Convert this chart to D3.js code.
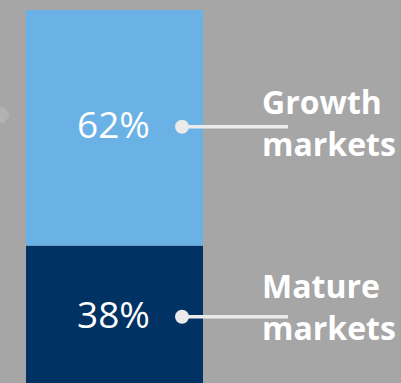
<!DOCTYPE html>
<html>
<head>
<meta charset="utf-8">
<script src="https://cdn.jsdelivr.net/npm/d3@7"></script>
<style>
  html, body { margin: 0; padding: 0; background: #a6a6a6; }
  svg { display: block; }
</style>
</head>
<body>
<svg id="chart" width="401" height="383"></svg>
<script>
// Market split (share of total, %), stacked from the bottom up
const segments = ["Mature markets", "Growth markets"];
const shares = [38, 62];
const labelLines = [["Mature", "markets"], ["Growth", "markets"]];
const colors = ["#003263", "#6ab1e6"];

const W = 401, H = 383;
const svg = d3.select("#chart");

// background
svg.append("rect").attr("width", W).attr("height", H).attr("fill", "#a6a6a6");

// faint pointer at the left edge
svg.append("path")
  .attr("d", "M0,107 L4,107 L10,115 L4,123 L0,123 Z")
  .attr("fill", "#b2b2b2");

const x = d3.scaleBand().domain(["share"]).range([26, 203]).padding(0);
const y = d3.scaleLinear().domain([0, 100]).range([390, 10]);

// stack
let acc = 0;
const stacked = shares.map((v, i) => {
  const d = { key: segments[i], value: v, y0: acc, y1: acc + v, i };
  acc += v;
  return d;
});

const g = svg.append("g");

g.selectAll("rect.seg")
  .data(stacked)
  .join("rect")
  .attr("class", "seg")
  .attr("x", x("share"))
  .attr("width", x.bandwidth())
  .attr("y", d => y(d.y1))
  .attr("height", d => y(d.y0) - y(d.y1))
  .attr("fill", d => colors[d.i]);

const mid = d => (y(d.y0) + y(d.y1)) / 2 - 1;
const cx = x("share") + x.bandwidth() / 2;

// percentage values
g.selectAll("text.pct")
  .data(stacked)
  .join("text")
  .attr("class", "pct")
  .attr("x", cx - 1)
  .attr("y", d => mid(d) + 11)
  .attr("text-anchor", "middle")
  .attr("font-family", "'Open Sans', sans-serif")
  .attr("font-size", 37)
  .attr("fill", "#ffffff")
  .text(d => d.value + "%");

// leader lines and dots
const leaderColor = "#ebebeb";
g.selectAll("line.leader")
  .data(stacked)
  .join("line")
  .attr("class", "leader")
  .attr("x1", 182)
  .attr("x2", 288)
  .attr("y1", d => mid(d))
  .attr("y2", d => mid(d))
  .attr("stroke", leaderColor)
  .attr("stroke-width", 3.5);

g.selectAll("circle.dot")
  .data(stacked)
  .join("circle")
  .attr("class", "dot")
  .attr("cx", 182)
  .attr("cy", d => mid(d))
  .attr("r", 7)
  .attr("fill", leaderColor);

// segment names, two lines each
const nameShift = [-19, -13];
const names = g.selectAll("text.name")
  .data(stacked)
  .join("text")
  .attr("class", "name")
  .attr("font-family", "'Open Sans', sans-serif")
  .attr("font-weight", 700)
  .attr("font-size", 32)
  .attr("fill", "#ffffff");

names.selectAll("tspan")
  .data(d => labelLines[d.i].map((t, k) => ({ t, k, d })))
  .join("tspan")
  .attr("x", 262)
  .attr("y", e => mid(e.d) + nameShift[e.d.i] + e.k * 42)
  .text(e => e.t);
</script>
</body>
</html>
